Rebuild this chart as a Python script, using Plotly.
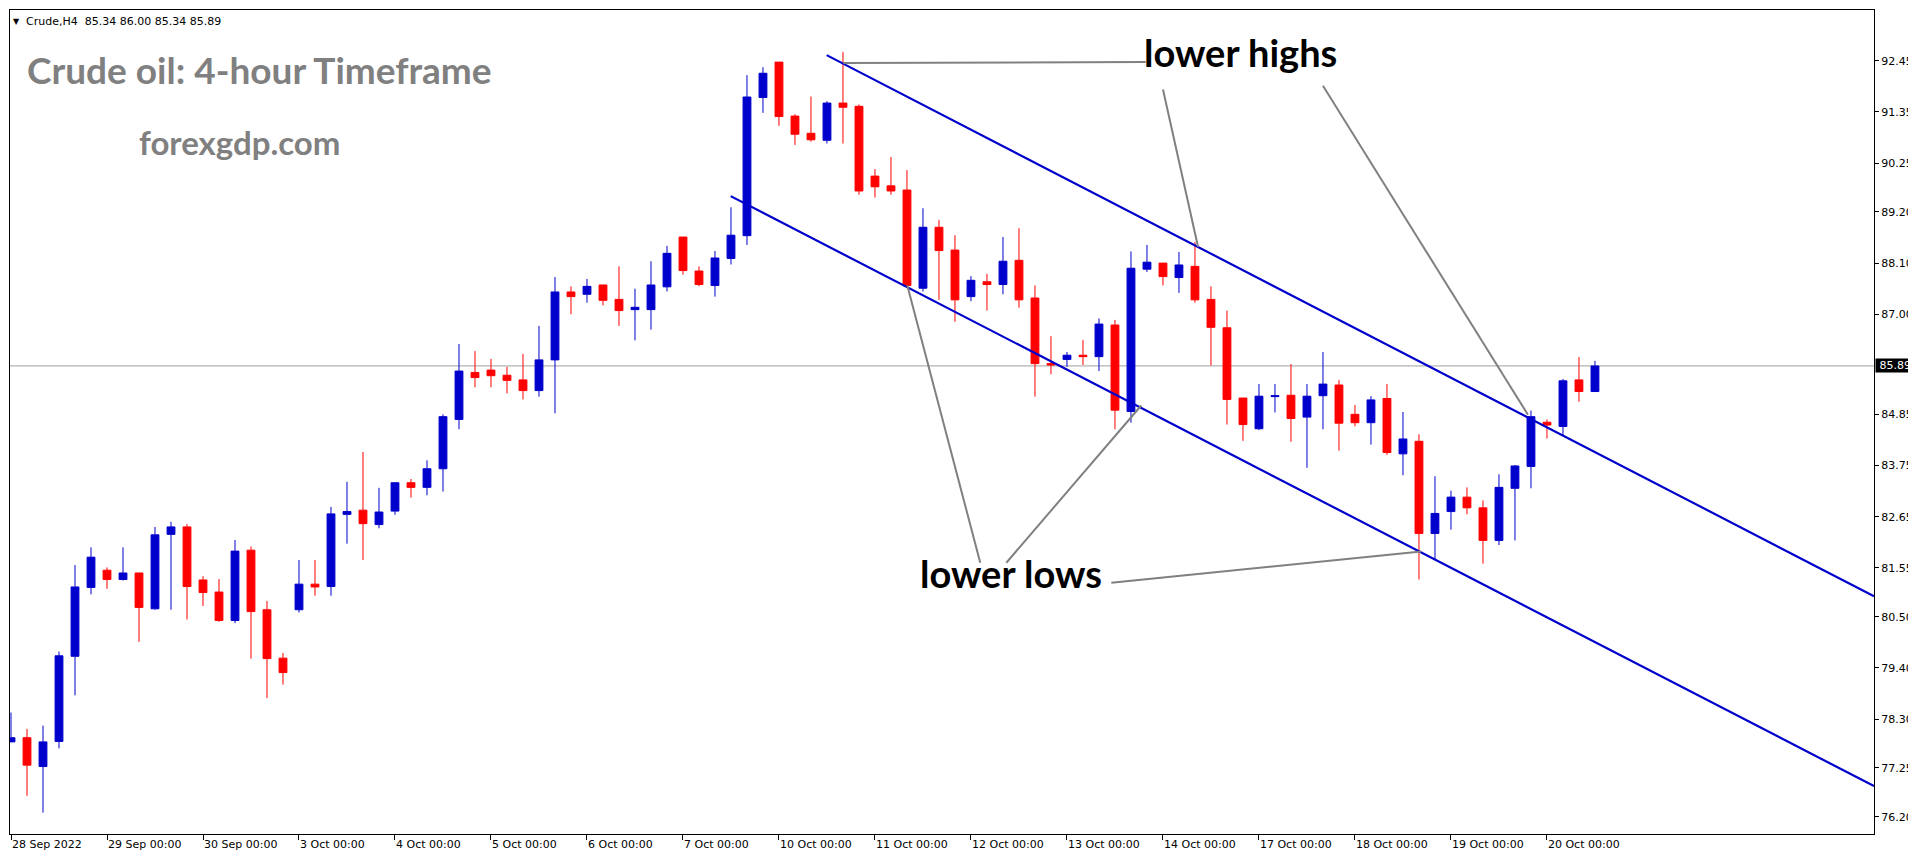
import plotly.graph_objects as go

# ---------------- data ----------------
date_labels = ["28 Sep 2022", "29 Sep 00:00", "30 Sep 00:00", "3 Oct 00:00", "4 Oct 00:00",
               "5 Oct 00:00", "6 Oct 00:00", "7 Oct 00:00", "10 Oct 00:00", "11 Oct 00:00",
               "12 Oct 00:00", "13 Oct 00:00", "14 Oct 00:00", "17 Oct 00:00", "18 Oct 00:00",
               "19 Oct 00:00", "20 Oct 00:00"]
bars_per_day = 6

price_labels = ["92.45", "91.35", "90.25", "89.20", "88.10", "87.00", "84.85", "83.75",
                "82.65", "81.55", "80.50", "79.40", "78.30", "77.25", "76.20"]

opens = [77.81, 77.90, 77.28, 77.82, 79.65, 81.13, 81.50, 81.30, 81.44, 80.67,
         82.27, 82.43, 81.29, 81.03, 80.42, 81.93, 80.65, 79.61, 80.65, 81.20,
         81.15, 82.70, 82.79, 82.48, 82.77, 83.38, 83.28, 83.68, 84.74, 85.75,
         85.80, 85.69, 85.59, 85.36, 86.02, 87.48, 87.43, 87.63, 87.32, 87.10,
         87.10, 87.59, 88.66, 87.93, 87.62, 88.20, 88.69, 91.66, 92.42, 91.26,
         90.89, 90.74, 91.54, 91.47, 89.97, 89.76, 89.67, 87.56, 88.87, 88.38,
         87.38, 87.70, 87.64, 88.16, 87.35, 85.94, 86.03, 86.12, 86.09, 86.77,
         84.91, 87.97, 88.10, 87.79, 88.03, 87.32, 86.71, 85.20, 84.54, 85.23,
         85.26, 84.79, 85.25, 85.48, 84.85, 84.67, 85.19, 84.00, 84.27, 82.29,
         82.76, 83.07, 82.84, 82.14, 83.26, 83.73, 84.68, 84.59, 85.59, 85.34]
highs = [78.44, 78.09, 78.16, 79.75, 81.61, 81.99, 81.56, 81.99, 81.44, 82.43,
         82.54, 82.49, 81.37, 81.31, 82.15, 82.01, 80.84, 79.72, 81.72, 81.72,
         82.86, 83.40, 84.04, 83.27, 83.38, 83.46, 83.86, 84.85, 86.36, 86.21,
         86.04, 85.87, 86.15, 86.75, 87.80, 87.60, 87.76, 87.63, 88.03, 87.55,
         88.14, 88.47, 88.66, 88.03, 88.36, 89.30, 92.14, 92.31, 92.42, 91.30,
         91.68, 91.58, 92.64, 91.51, 90.12, 90.38, 90.10, 89.28, 89.03, 88.70,
         87.82, 87.87, 88.66, 88.85, 87.62, 86.53, 86.19, 86.45, 86.91, 86.88,
         88.35, 88.49, 88.10, 88.34, 88.55, 87.60, 87.08, 85.20, 85.50, 85.50,
         85.93, 85.50, 86.19, 85.59, 85.05, 85.24, 85.50, 84.90, 84.42, 83.52,
         83.21, 83.28, 83.00, 83.56, 83.76, 84.93, 84.74, 85.61, 86.08, 86.00]
lows = [77.81, 76.65, 76.29, 77.67, 78.81, 80.98, 81.10, 81.28, 79.96, 80.65,
        80.65, 80.44, 80.73, 80.39, 80.36, 79.60, 78.75, 79.04, 80.59, 80.95,
        80.95, 82.07, 81.72, 82.40, 82.69, 83.06, 83.11, 83.19, 84.53, 85.43,
        85.43, 85.30, 85.17, 85.23, 84.87, 87.00, 87.25, 87.19, 86.75, 86.44,
        86.67, 87.49, 87.85, 87.60, 87.38, 88.07, 88.49, 91.33, 91.05, 90.64,
        90.71, 90.67, 90.67, 89.57, 89.51, 89.57, 87.62, 87.49, 87.31, 86.84,
        87.28, 87.08, 87.43, 87.14, 85.23, 85.71, 85.87, 85.91, 85.78, 84.53,
        84.67, 87.91, 87.62, 87.46, 87.25, 85.90, 84.63, 84.28, 84.51, 84.89,
        84.26, 83.70, 84.53, 84.07, 84.59, 84.20, 83.98, 83.54, 81.30, 81.73,
        82.37, 82.70, 81.64, 82.04, 82.14, 83.26, 84.33, 84.40, 85.12, 85.34]
closes = [77.90, 77.31, 77.81, 79.66, 81.14, 81.78, 81.30, 81.44, 80.70, 82.26,
          82.43, 81.15, 81.02, 80.42, 81.91, 80.61, 79.60, 79.30, 81.20, 81.14,
          82.71, 82.76, 82.50, 82.75, 83.38, 83.28, 83.68, 84.80, 85.78, 85.64,
          85.68, 85.58, 85.36, 86.02, 87.48, 87.38, 87.60, 87.30, 87.08, 87.15,
          87.63, 88.31, 87.94, 87.64, 88.21, 88.70, 91.67, 92.18, 91.25, 90.87,
          90.75, 91.54, 91.45, 89.65, 89.74, 89.65, 87.62, 88.87, 88.37, 87.31,
          87.73, 87.64, 88.14, 87.31, 85.94, 85.91, 86.12, 86.09, 86.79, 84.94,
          87.99, 88.12, 87.81, 88.06, 87.31, 86.72, 85.17, 84.63, 85.24, 85.25,
          84.76, 85.24, 85.50, 84.66, 84.67, 85.16, 84.03, 84.32, 82.29, 82.72,
          83.07, 82.84, 82.14, 83.28, 83.74, 84.80, 84.62, 85.57, 85.34, 85.89]

# channel lines (bar index, price)
upper_channel_x = [50.98, 116.44]
upper_channel_y = [92.57, 80.94]
lower_channel_x = [44.98, 116.44]
lower_channel_y = [89.54, 76.86]

# annotation pointer lines (bar index, price)
pointer_x = [[52.02, 70.92], [72.0, 74.19], [82.0, 94.81],
             [56.02, 60.58], [62.21, 70.64], [68.77, 88.14]]
pointer_y = [[92.40, 92.42], [91.83, 88.45], [91.91, 84.84],
             [87.62, 81.66], [81.66, 85.04], [81.23, 81.90]]

# ---------------- figure ----------------
W, H = 1916, 850
ML, MR, MT, MB = 2, 50, 2, 24
PW, PH = W - ML - MR, H - MT - MB


def px(X):
    return (X - ML) / PW


def py(Y):
    return 1 - (Y - MT) / PH


idx = list(range(len(opens)))
BLUE = "#0000CC"
RED = "#FF0000"

fig = go.Figure()

fig.add_trace(go.Candlestick(
    x=idx, open=opens, high=highs, low=lows, close=closes,
    increasing=dict(line=dict(color=BLUE, width=1), fillcolor=BLUE),
    decreasing=dict(line=dict(color=RED, width=1), fillcolor=RED),
    whiskerwidth=0, hoverinfo="skip", showlegend=False,
))

for xs, ys in [(upper_channel_x, upper_channel_y), (lower_channel_x, lower_channel_y)]:
    fig.add_trace(go.Scatter(x=xs, y=ys, mode="lines",
                             line=dict(color="#0000CD", width=2.2),
                             hoverinfo="skip", showlegend=False))

for xs, ys in zip(pointer_x, pointer_y):
    fig.add_trace(go.Scatter(x=xs, y=ys, mode="lines",
                             line=dict(color="#808080", width=2),
                             hoverinfo="skip", showlegend=False))

last_price = closes[-1]
fig.add_shape(type="line", xref="paper", x0=0, x1=1, yref="y", y0=last_price, y1=last_price,
              line=dict(color="#A0A0A0", width=1), layer="below")

tick_font = dict(family="DejaVu Sans", size=11, color="black")

annotations = [
    dict(text="▼", x=px(3), y=py(13), xref="paper", yref="paper", xanchor="left", yanchor="middle",
         showarrow=False, font=dict(family="DejaVu Sans", size=8, color="black")),
    dict(text="Crude,H4  %.2f %.2f %.2f %.2f" % (opens[-1], highs[-1], lows[-1], closes[-1]),
         x=px(16), y=py(13), xref="paper", yref="paper", xanchor="left", yanchor="middle",
         showarrow=False, font=dict(family="DejaVu Sans", size=11, color="black")),
    dict(text="<b>Crude oil: 4-hour Timeframe</b>", x=px(17), y=py(62), xref="paper", yref="paper",
         xanchor="left", yanchor="middle", showarrow=False,
         font=dict(family="Lato", size=37, color="#808080")),
    dict(text="<b>forexgdp.com</b>", x=px(129), y=py(134), xref="paper", yref="paper",
         xanchor="left", yanchor="middle", showarrow=False,
         font=dict(family="Lato", size=33, color="#808080")),
    dict(text="<b>lower highs</b>", x=px(1134), y=py(44), xref="paper", yref="paper",
         xanchor="left", yanchor="middle", showarrow=False,
         font=dict(family="Lato", size=38, color="black")),
    dict(text="<b>lower lows</b>", x=px(910), y=py(565), xref="paper", yref="paper",
         xanchor="left", yanchor="middle", showarrow=False,
         font=dict(family="Lato", size=38, color="black")),
    dict(text="&nbsp;%.2f&nbsp;" % last_price, x=1, y=last_price, xref="paper", yref="y",
         xanchor="left", yanchor="middle", xshift=1, showarrow=False,
         bgcolor="black", borderpad=0,
         font=dict(family="DejaVu Sans", size=11, color="white")),
]

fig.update_layout(
    width=W, height=H,
    margin=dict(l=ML, r=MR, t=MT, b=MB),
    paper_bgcolor="white", plot_bgcolor="white",
    showlegend=False,
    annotations=annotations,
    xaxis=dict(
        range=[-0.0625, 116.44],
        tickvals=[i * bars_per_day for i in range(len(date_labels))],
        ticktext=date_labels,
        ticks="outside", ticklen=5, tickcolor="black",
        ticklabelposition="outside right",
        tickfont=tick_font,
        showgrid=False, zeroline=False,
        showline=True, linecolor="black", linewidth=1, mirror=True,
        rangeslider=dict(visible=False),
        fixedrange=True,
    ),
    yaxis=dict(
        range=[75.83, 93.54],
        side="right",
        tickvals=[float(t) for t in price_labels],
        ticktext=price_labels,
        ticks="outside", ticklen=4, tickcolor="black",
        tickfont=tick_font,
        showgrid=False, zeroline=False,
        showline=True, linecolor="black", linewidth=1, mirror=True,
        fixedrange=True,
    ),
)

fig.write_html("out.html")
